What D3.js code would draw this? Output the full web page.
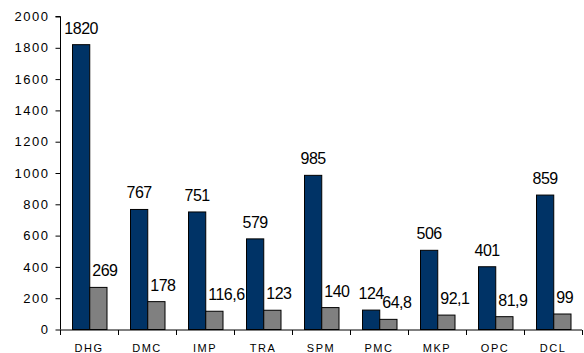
<!DOCTYPE html>
<html>
<head>
<meta charset="utf-8">
<script src="https://cdn.jsdelivr.net/npm/d3@7"></script>
<style>
  html, body { margin: 0; padding: 0; background: #fff; }
  svg { display: block; font-family: Arial, "Liberation Sans", sans-serif; }
</style>
</head>
<body>
<svg id="chart" width="584" height="353"></svg>
<script>
// Companies and their two measures
const categories = ["DHG", "DMC", "IMP", "TRA", "SPM", "PMC", "MKP", "OPC", "DCL"];
const seriesA = [1820, 767, 751, 579, 985, 124, 506, 401, 859];
const seriesB = [269, 178, 116.6, 123, 140, 64.8, 92.1, 81.9, 99];
const yTicks = [0, 200, 400, 600, 800, 1000, 1200, 1400, 1600, 1800, 2000];

const seriesKeys = ["a", "b"];
const colors = { a: "#003366", b: "#808080" };

const rows = categories.map((c, i) => ({ cat: c, a: seriesA[i], b: seriesB[i] }));

const svg = d3.select("#chart");

const x = d3.scaleBand().domain(categories).range([60, 582]).paddingInner(0).paddingOuter(0);
const xs = d3.scaleBand().domain(seriesKeys).range([12, 46.5]);
const y = d3.scaleLinear().domain([0, 2000]).range([329.5, 16.5]);

const fmt = v => String(v).replace(".", ",");

// Y axis
const yAxis = d3.axisLeft(y).tickValues(yTicks).tickSize(5).tickPadding(6).tickFormat(d3.format("d"));
const gy = svg.append("g").attr("transform", "translate(60.5,0)").call(yAxis);
gy.select(".domain").attr("stroke", "#000").attr("d", `M-5,${y(2000)}H0V${y(0)}`);
gy.selectAll(".tick line").attr("stroke", "#000");
gy.selectAll(".tick text")
  .attr("fill", "#000")
  .style("font-size", "13px")
  .style("letter-spacing", "1.5px");

// Bars
const groups = svg.append("g").selectAll("g")
  .data(rows)
  .join("g")
  .attr("transform", d => `translate(${x(d.cat)},0)`);

groups.selectAll("rect")
  .data(d => seriesKeys.map(k => ({ key: k, value: d[k] })))
  .join("rect")
  .attr("x", d => xs(d.key) + 0.5)
  .attr("y", d => y(d.value))
  .attr("width", xs.bandwidth())
  .attr("height", d => y(0) - y(d.value))
  .attr("fill", d => colors[d.key])
  .attr("stroke", "#000")
  .attr("stroke-width", 1);

// Value labels
groups.append("text")
  .attr("x", d => xs("a") + xs.bandwidth() / 2 + 0.5)
  .attr("y", d => y(d.a) - 11)
  .attr("text-anchor", "middle")
  .style("font-size", "16px")
  .style("letter-spacing", "-0.5px")
  .text(d => fmt(d.a));

groups.append("text")
  .attr("x", d => xs("b") + 3)
  .attr("y", d => y(d.b) - 11)
  .attr("text-anchor", "start")
  .style("font-size", "16px")
  .style("letter-spacing", "-0.5px")
  .text(d => fmt(d.b));

// X axis
const xAxis = d3.axisBottom(x).tickSize(0).tickPadding(14);
const gx = svg.append("g").attr("transform", `translate(0,${y(0) + 0.5})`).call(xAxis);
gx.select(".domain").attr("stroke", "#000").attr("d", "M60,0H582");
gx.selectAll(".tick text")
  .attr("fill", "#000")
  .attr("dy", "0.71em")
  .style("font-size", "11px")
  .style("letter-spacing", "1.5px");

// Category separator ticks
const bounds = categories.map(c => x(c)).concat([x.range()[1]]);
gx.selectAll(".sep")
  .data(bounds)
  .join("line")
  .attr("class", "sep")
  .attr("x1", d => Math.round(d) + 0.5)
  .attr("x2", d => Math.round(d) + 0.5)
  .attr("y1", 0)
  .attr("y2", 5)
  .attr("stroke", "#000");
</script>
</body>
</html>
